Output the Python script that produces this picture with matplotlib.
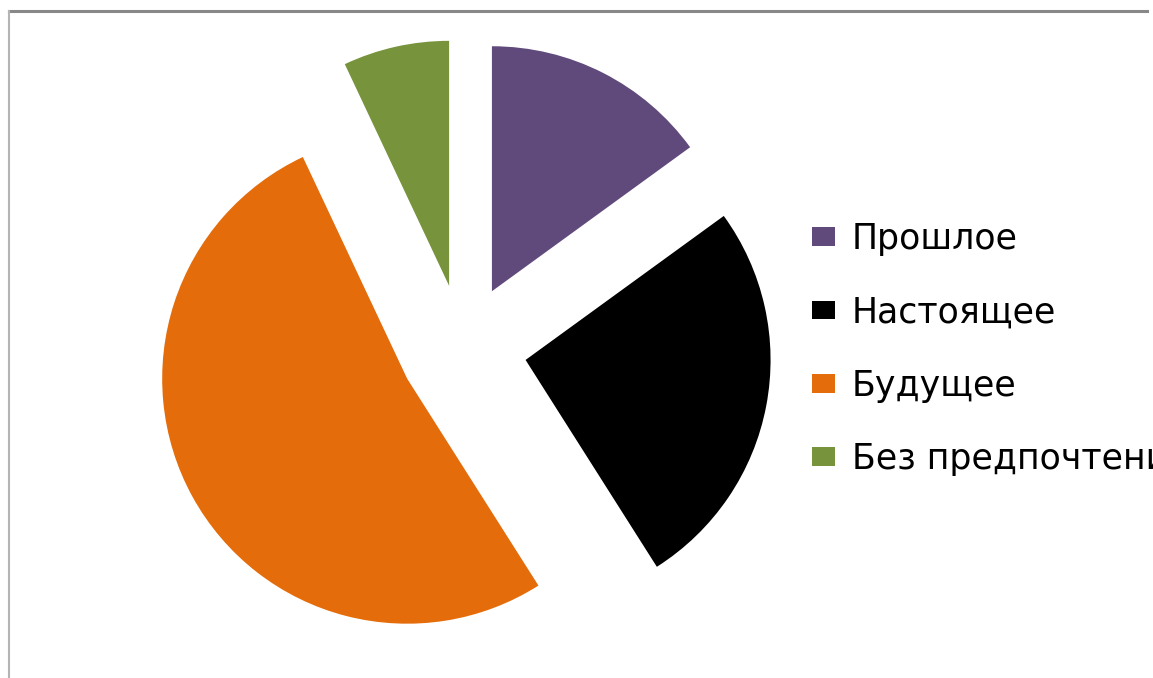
import matplotlib
matplotlib.use("Agg")
import matplotlib.pyplot as plt
from matplotlib.patches import Rectangle
from matplotlib.lines import Line2D

# Time orientation survey shares (%)
categories = ["Прошлое", "Настоящее", "Будущее", "Без предпочтения"]
shares = [15, 26, 52, 7]
colors = ["#604A7B", "#000000", "#E46C0A", "#77933C"]

W, H = 1153, 678
fig = plt.figure(figsize=(W / 100, H / 100), dpi=100)
fig.patch.set_facecolor("white")

# Pie axes: centre and radius in pixels
cx, cy, r = 463, H - 348, 245
half = 2.0 * r
ax = fig.add_axes([(cx - half) / W, (cy - half) / H, 2 * half / W, 2 * half / H])
wedges, _ = ax.pie(
    shares,
    colors=colors,
    startangle=90,
    counterclock=False,
    explode=[0.26] * len(shares),
    radius=1.0,
    wedgeprops=dict(linewidth=0),
)
ax.set_xlim(-2, 2)
ax.set_ylim(-2, 2)
ax.set_aspect("auto")
ax.axis("off")

# Legend on the right
fs = 25
fs_px = fs * 100 / 72
handles = [Rectangle((0, 0), 1, 1, facecolor=c, edgecolor="none") for c in colors]
leg = fig.legend(
    handles,
    categories,
    loc="center left",
    bbox_to_anchor=(812 / W, (H - 349) / H),
    frameon=False,
    prop=dict(family="DejaVu Sans", size=fs),
    handlelength=23 / fs_px,
    handleheight=16 / fs_px,
    handletextpad=0.48,
    labelspacing=1.13,
    borderpad=0,
    borderaxespad=0,
)

# Chart area border (top and left edges)
fig.add_artist(Line2D([9 / W, 1147 / W], [(H - 11) / H, (H - 11) / H],
                      transform=fig.transFigure, color="#888888", linewidth=2.2))
fig.add_artist(Line2D([9 / W, 9 / W], [0, (H - 11) / H],
                      transform=fig.transFigure, color="#B4B4B4", linewidth=1.5))

fig.savefig("out.png", dpi=100, facecolor="white")
